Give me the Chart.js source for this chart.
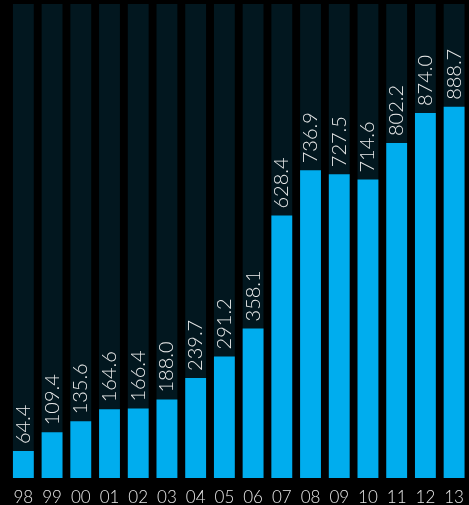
<!DOCTYPE html>
<html>
<head>
<meta charset="utf-8">
<script src="https://cdn.jsdelivr.net/npm/chart.js@4"></script>
<style>
  html, body { margin: 0; padding: 0; background: #000; overflow: hidden; }
  #wrap { width: 469px; height: 505px; overflow: hidden; }
</style>
</head>
<body>
<div id="wrap"><canvas id="js--grafiek1" width="473" height="505"></canvas></div>
<script>
const years = ['98', '99', '00', '01', '02', '03', '04', '05', '06', '07', '08', '09', '10', '11', '12', '13'];
const values = [64.4, 109.4, 135.6, 164.6, 166.4, 188.0, 239.7, 291.2, 358.1, 628.4, 736.9, 727.5, 714.6, 802.2, 874.0, 888.7];
const trackMax = 1135;
const track = [1135, 1135, 1135, 1135, 1135, 1135, 1135, 1135, 1135, 1135, 1135, 1135, 1135, 1135, 1135, 1135];

// value labels, turned up the bar
const valueLabels = {
  id: 'valueLabels',
  afterDatasetsDraw(chart) {
    const ctx = chart.ctx;
    const meta = chart.getDatasetMeta(1);
    ctx.save();
    ctx.fillStyle = '#ececec';
    ctx.font = '300 20px Lato';
    ctx.textAlign = 'left';
    ctx.textBaseline = 'middle';
    meta.data.forEach((bar, i) => {
      ctx.save();
      ctx.translate(bar.x, bar.y - 7);
      ctx.rotate(-Math.PI / 2);
      ctx.fillText(values[i].toFixed(1), 0, 0);
      ctx.restore();
    });
    ctx.restore();
  }
};

const config = {
  type: 'bar',
  data: {
    labels: years,
    datasets: [
      {
        data: track,
        backgroundColor: '#02171f',
        barPercentage: 0.726,
        categoryPercentage: 1,
        grouped: false,
        order: 2
      },
      {
        data: values,
        backgroundColor: '#00adee',
        barPercentage: 0.726,
        categoryPercentage: 1,
        grouped: false,
        order: 1
      }
    ]
  },
  options: {
    responsive: false,
    animation: false,
    layout: { padding: { left: 9, right: 1, top: 4, bottom: 0 } },
    plugins: { legend: { display: false }, tooltip: { enabled: false } },
    scales: {
      x: {
        grid: { display: false, drawTicks: false },
        border: { display: false },
        ticks: { color: '#e6e6e6', font: { family: 'Lato', size: 17, weight: '300' }, padding: 9, maxRotation: 0, autoSkip: false },
        afterFit(scale) { scale.height = 27; }
      },
      y: { display: false, min: 0, max: trackMax }
    }
  },
  plugins: [valueLabels]
};

const chart1 = new Chart(document.getElementById('js--grafiek1'), config);
</script>
</body>
</html>
